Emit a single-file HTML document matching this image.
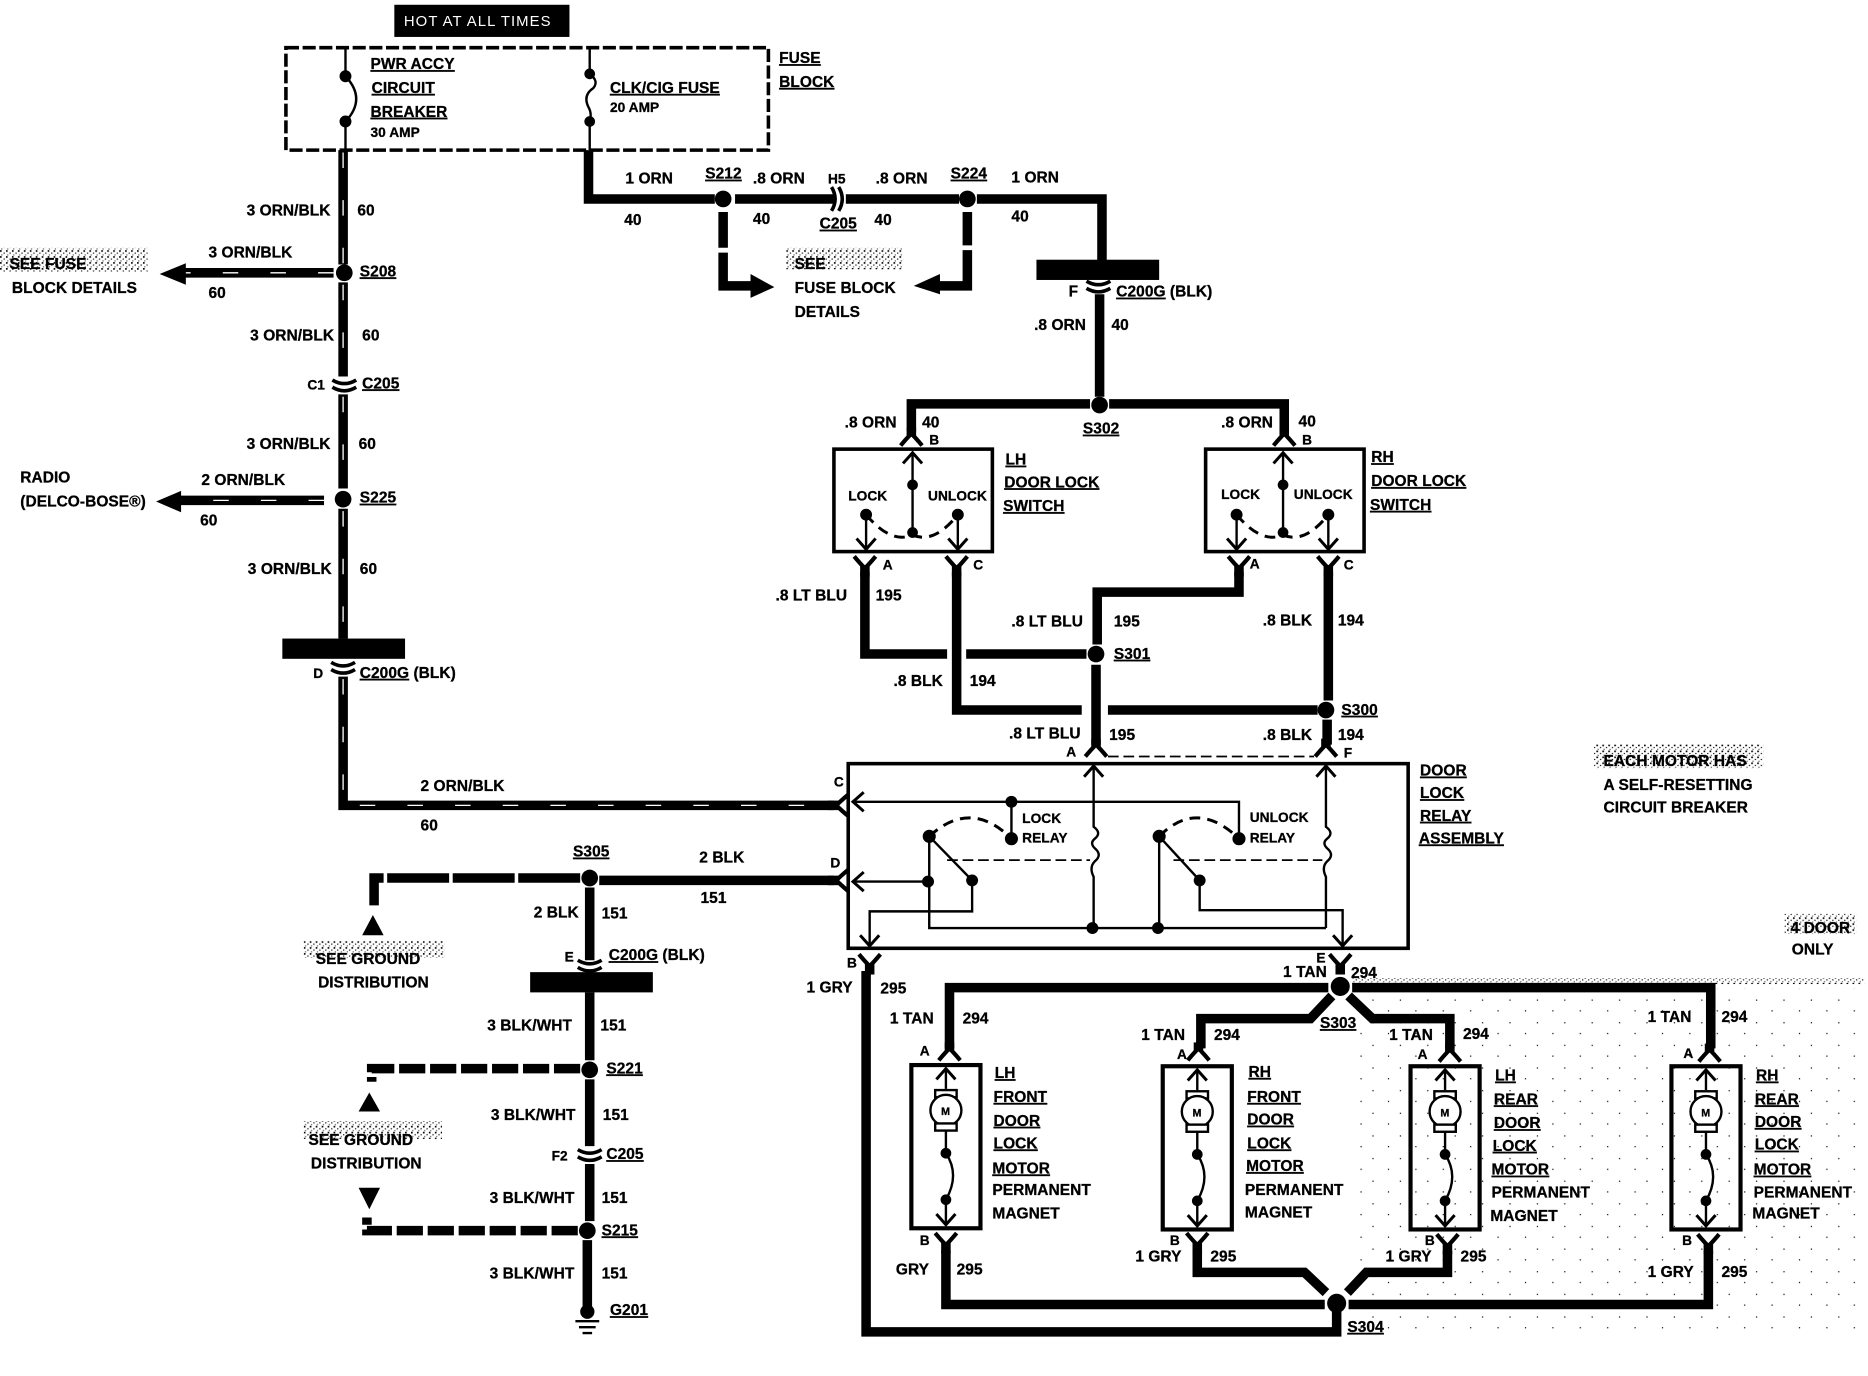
<!DOCTYPE html>
<html><head><meta charset="utf-8"><title>Door lock wiring diagram</title>
<style>
html,body{margin:0;padding:0;background:#fff;width:1868px;height:1376px;overflow:hidden}
svg{display:block}
text{font-family:"Liberation Sans",sans-serif;font-weight:700;font-size:13px;fill:#000;stroke:#000;stroke-width:.25px;letter-spacing:.05px}
.s{font-size:11.5px}
.u{text-decoration:underline;text-underline-offset:3px;text-decoration-thickness:1.5px}
.w{fill:none;stroke:#000;stroke-width:8;stroke-linejoin:miter}
.h{fill:none;stroke:#fff;stroke-width:1.1;stroke-dasharray:13 27}
.t{fill:none;stroke:#000;stroke-width:2}
.b{fill:none;stroke:#000;stroke-width:3}
</style></head><body>
<svg xmlns="http://www.w3.org/2000/svg" width="1868" height="1376" viewBox="0 0 1568 1155" preserveAspectRatio="none">
<defs>
<pattern id="n" width="5" height="5" patternUnits="userSpaceOnUse"><rect x="0" y="0" width="1.4" height="1.4" fill="#000"/><rect x="3" y="2" width="1" height="1" fill="#000"/><rect x="1" y="3.5" width="1" height="1" fill="#555"/></pattern>
<pattern id="m" width="23" height="19" patternUnits="userSpaceOnUse"><rect x="2" y="3" width="1" height="1" fill="#000"/><rect x="15" y="12" width="1" height="1" fill="#000"/></pattern>
<g id="yd"><path d="M-9,5 Q-4,-1 0,-5 Q4,-1 9,5" fill="none" stroke="#000" stroke-width="3.5"/><rect x="-4" y="-10" width="8" height="7"/></g>
<g id="yu"><path d="M-9,-5 Q-4,1 0,5 Q4,1 9,-5" fill="none" stroke="#000" stroke-width="3.5"/><rect x="-4" y="3" width="8" height="9"/></g>
<g id="au"><path d="M-8,9 L0,0 L8,9" fill="none" stroke="#000" stroke-width="2.5"/></g>
<g id="ad"><path d="M-8,-9 L0,0 L8,-9" fill="none" stroke="#000" stroke-width="2.5"/></g>
<g id="cc"><path d="M-10,-5 Q0,1 10,-5 M-10,1 Q0,7 10,1" fill="none" stroke="#000" stroke-width="3"/></g>
<g id="motor">
<rect x="-29" y="0" width="58" height="137" fill="none" stroke="#000" stroke-width="3.5"/>
<use href="#au" y="3"/><path class="t" d="M0,3 V20"/>
<rect x="-9" y="21" width="18" height="6" fill="#fff" stroke="#000" stroke-width="2"/>
<circle cx="0" cy="38" r="13" fill="#fff" stroke="#000" stroke-width="2"/>
<text x="-4" y="42" style="font-size:9px">M</text>
<rect x="-9" y="49" width="18" height="6" fill="#fff" stroke="#000" stroke-width="2"/>
<path class="t" d="M0,55 V74 M0,74 Q12,92 0,113 M0,113 V134"/>
<circle cx="0" cy="74" r="4.5"/><circle cx="0" cy="113" r="4.5"/>
<use href="#ad" y="134"/>
</g>
<g id="sw">
<use href="#au" y="3"/><path class="t" d="M0,3 V70"/>
<circle cx="0" cy="30" r="4.5"/><circle cx="0" cy="70" r="4.5"/>
<path d="M-39,55 Q-18,80 0,72 Q18,80 38,55" fill="none" stroke="#000" stroke-width="2.5" stroke-dasharray="9 6"/>
<circle cx="-39" cy="55" r="5"/><circle cx="38" cy="55" r="5"/>
<path class="t" d="M-39,55 V84 M38,55 V84"/>
<use href="#ad" x="-39" y="84"/><use href="#ad" x="38" y="84"/>
</g>
</defs>

<!-- noise patches -->
<rect x="0" y="208" width="124" height="20" fill="url(#n)"/>
<rect x="660" y="208" width="98" height="18" fill="url(#n)"/>
<rect x="255" y="790" width="118" height="14" fill="url(#n)"/>
<rect x="255" y="941" width="116" height="15" fill="url(#n)"/>
<rect x="1338" y="625" width="142" height="20" fill="url(#n)"/>
<rect x="1498" y="767" width="60" height="17" fill="url(#n)"/>
<rect x="1135" y="821" width="430" height="5" fill="url(#n)"/>
<rect x="1140" y="830" width="425" height="290" fill="url(#m)"/>

<!-- fuse block -->
<rect x="331" y="4" width="147" height="27"/>
<text x="339" y="22" style="fill:#fff;stroke:none;font-weight:400;font-size:12.5px;letter-spacing:.9px">HOT AT ALL TIMES</text>
<rect x="240" y="40" width="405" height="86" fill="none" stroke="#000" stroke-width="3" stroke-dasharray="11 3"/>
<path class="t" d="M290,40 V64 M290,102 V126 M495,40 V62 M495,102 V126"/>
<path class="t" d="M290,64 Q308,83 290,102 M495,62 Q503,68 498,74 Q489,80 494,90 Q497,95 495,102"/>
<circle cx="290" cy="64" r="5"/><circle cx="290" cy="102" r="5"/><circle cx="495" cy="62" r="4.5"/><circle cx="495" cy="102" r="4.5"/>

<!-- top wires -->
<path class="w" d="M494,126 V167 H600"/>
<circle cx="607" cy="167" r="7"/>
<path class="w" d="M617,167 H700 M710,167 H805"/>
<use href="#cc" transform="translate(703,167) rotate(-90)"/>
<circle cx="812" cy="167" r="7"/>
<path class="w" d="M820,167 H925 V220"/>
<path class="w" d="M607,178 V208 M607,212 V240 H632"/><path d="M630,230 L650,241 L630,250Z"/>
<path class="w" d="M812,178 V206 M812,210 V240 H787"/><path d="M789,230 L767,240 L789,247Z"/>
<rect x="870" y="218" width="103" height="17"/>
<use href="#cc" x="922" y="241"/>
<path class="w" d="M923,247 V333"/>
<circle cx="923" cy="340" r="7"/>
<path class="w" d="M915,339 H765 V362 M931,339 H1078 V362"/>
<use href="#yd" x="765" y="369"/>
<use href="#yd" x="1078" y="369"/>

<!-- switches -->
<rect x="700" y="377" width="133" height="86" class="b"/>
<rect x="1012" y="377" width="133" height="86" class="b"/>
<use href="#sw" x="766" y="377"/>
<use href="#sw" x="1077" y="377"/>

<!-- switch lower wires -->
<use href="#yu" x="726" y="472"/><use href="#yu" x="803" y="472"/><use href="#yu" x="1040" y="472"/><use href="#yu" x="1115" y="472"/>
<path class="w" d="M726,480 V549 H795 M811,549 H912"/>
<circle cx="920" cy="549" r="7"/>
<path class="w" d="M803,480 V596 H908 M930,596 H1106"/>
<circle cx="1113" cy="596" r="7"/>
<path class="w" d="M1040,480 V497 H921 V541 M920,558 V625"/>
<path class="w" d="M1115,480 V588 M1114,604 V625"/>
<use href="#yd" x="920" y="630"/><use href="#yd" x="1113" y="630"/>
<path d="M930,635 H1103" stroke="#000" stroke-width="1.5" stroke-dasharray="9 4" fill="none"/>

<!-- relay -->
<rect x="712" y="641" width="470" height="155" class="b"/>
<use href="#au" x="918" y="643"/><use href="#au" x="1113" y="643"/>
<path class="t" d="M918,643 V694 Q925,699 919,704 Q914,708 920,713 Q925,718 919,723 Q914,728 918,736 V779"/>
<path class="t" d="M1113,643 V694 Q1120,699 1114,704 Q1109,708 1115,713 Q1120,718 1114,723 Q1109,728 1113,736 V779"/>
<path class="t" d="M716,673 H1040 V703 M849,673 V703"/>
<use href="#au" transform="translate(716,673) rotate(-90)"/>
<use href="#au" transform="translate(716,740) rotate(-90)"/>
<path class="t" d="M716,740 H780 V779 H1113 M780,702 V740"/>
<path class="t" d="M780,702 L816,739 V765 H730 V794"/>
<use href="#ad" x="730" y="794"/>
<path class="t" d="M973,702 V779 M973,702 L1007,739 V764 H1127 V794"/>
<use href="#ad" x="1127" y="794"/>
<path d="M780,702 Q815,670 849,704 M973,702 Q1005,670 1040,704" fill="none" stroke="#000" stroke-width="2.5" stroke-dasharray="9 6"/>
<path d="M795,722 H915 M985,722 H1110" stroke="#000" stroke-width="1.5" stroke-dasharray="9 4" fill="none"/>
<circle cx="780" cy="702" r="5.5"/><circle cx="849" cy="704" r="5.5"/><circle cx="849" cy="673" r="5"/>
<circle cx="973" cy="702" r="5.5"/><circle cx="1040" cy="704" r="5.5"/>
<circle cx="779" cy="740" r="5"/><circle cx="816" cy="739" r="5"/><circle cx="1007" cy="739" r="5"/>
<circle cx="917" cy="779" r="5"/><circle cx="972" cy="779" r="5"/>

<!-- left harness -->
<path class="w" d="M288,126 V222"/><path class="h" d="M288,128 V222"/>
<circle cx="289" cy="229" r="7"/>
<path class="w" d="M280,229 H150"/><path class="h" d="M280,229 H150"/>
<path d="M156,221 L134,230 L156,239Z"/>
<path class="w" d="M288,237 V316"/><path class="h" d="M288,239 V316"/>
<use href="#cc" x="289" y="324"/>
<path class="w" d="M288,331 V410"/><path class="h" d="M288,333 V410"/>
<circle cx="288" cy="419" r="7"/>
<path class="w" d="M272,420 H148"/><path class="h" d="M272,420 H148"/>
<path d="M152,412 L131,421 L152,430Z"/>
<path class="w" d="M288,427 V536"/><path class="h" d="M288,429 V536"/>
<rect x="237" y="536" width="103" height="17"/>
<use href="#cc" x="288" y="561"/>
<path class="w" d="M288,568 V676 H700"/><path class="h" d="M288,570 V676 H700"/>
<use href="#yu" transform="translate(707,676) rotate(90)"/>

<path class="w" d="M487,737 H314 V760" stroke-dasharray="52 3"/>
<path d="M313,768 L304,785 L322,785Z"/>
<circle cx="495" cy="737" r="7"/>
<path class="w" d="M503,739 H700"/>
<use href="#yu" transform="translate(707,739) rotate(90)"/>
<path class="w" d="M495,745 V806"/>
<use href="#cc" x="495" y="811"/>
<rect x="445" y="816" width="103" height="17"/>
<path class="w" d="M495,833 V890"/>
<circle cx="495" cy="898" r="7"/>
<path class="w" d="M487,897 H312 V908" stroke-dasharray="22 4"/>
<path d="M310,917 L301,933 L319,933Z"/>
<path class="w" d="M495,906 V962"/>
<use href="#cc" x="495" y="970"/>
<path class="w" d="M495,977 V1025"/>
<circle cx="493" cy="1033" r="7"/>
<path class="w" d="M485,1033 H308 V1022" stroke-dasharray="22 4"/>
<path d="M301,997 L319,997 L310,1015Z"/>
<path class="w" d="M493,1041 V1097"/>
<circle cx="493" cy="1101" r="6"/>
<path d="M483,1109 H503 M486,1114 H500 M489,1119 H497" stroke="#000" stroke-width="2"/>

<!-- lower wires -->
<use href="#yu" x="730" y="806"/>
<path class="w" d="M727,815 V1118 H1122 V1100"/>
<use href="#yu" x="1125" y="806"/>
<circle cx="1125" cy="828" r="8"/>
<path class="w" d="M1115,829 H797 V880"/>
<path class="w" d="M1135,829 H1436 V880"/>
<path class="w" d="M1118,836 L1100,855 H1008 V880"/>
<path class="w" d="M1132,836 L1152,855 H1217 V880"/>
<use href="#yd" x="797" y="885"/><use href="#yd" x="1006" y="885"/><use href="#yd" x="1217" y="886"/><use href="#yd" x="1435" y="886"/>

<use href="#motor" x="794" y="894"/>
<use href="#motor" x="1005" y="895"/>
<use href="#motor" x="1213" y="895"/>
<use href="#motor" x="1432" y="895"/>

<use href="#yu" x="794" y="1040"/><use href="#yu" x="1005" y="1040"/><use href="#yu" x="1215" y="1041"/><use href="#yu" x="1434" y="1041"/>
<path class="w" d="M794,1050 V1095 H1112"/>
<path class="w" d="M1005,1050 V1068 H1095 L1113,1085"/>
<path class="w" d="M1215,1050 V1068 H1147 L1131,1085"/>
<path class="w" d="M1434,1050 V1095 H1132"/>
<circle cx="1122" cy="1094" r="8"/>

<!-- labels -->
<text x="654" y="53" class="u">FUSE</text><text x="654" y="73" class="u">BLOCK</text>
<text x="311" y="58" class="u">PWR ACCY</text><text x="312" y="78" class="u">CIRCUIT</text><text x="311" y="98" class="u">BREAKER</text><text x="311" y="115" class="s">30 AMP</text>
<text x="512" y="78" class="u">CLK/CIG FUSE</text><text x="512" y="94" class="s">20 AMP</text>
<text x="525" y="154">1 ORN</text><text x="592" y="150" class="u">S212</text><text x="632" y="154">.8 ORN</text><text x="695" y="154" class="s">H5</text><text x="735" y="154">.8 ORN</text><text x="798" y="150" class="u">S224</text><text x="849" y="153">1 ORN</text>
<text x="524" y="189">40</text><text x="632" y="188">40</text><text x="734" y="189">40</text><text x="849" y="186">40</text><text x="688" y="192" class="u">C205</text>
<text x="667" y="226">SEE</text><text x="667" y="246">FUSE BLOCK</text><text x="667" y="266">DETAILS</text>
<text x="897" y="249">F</text><text x="937" y="249"><tspan class="u">C200G</tspan> (BLK)</text><text x="868" y="277">.8 ORN</text><text x="933" y="277">40</text>
<text x="709" y="359">.8 ORN</text><text x="774" y="359">40</text><text x="780" y="373" class="s">B</text><text x="909" y="364" class="u">S302</text><text x="1025" y="359">.8 ORN</text><text x="1090" y="358">40</text><text x="1093" y="373" class="s">B</text>
<text x="844" y="390" class="u">LH</text><text x="843" y="409" class="u">DOOR LOCK</text><text x="842" y="429" class="u">SWITCH</text>
<text x="1151" y="388" class="u">RH</text><text x="1151" y="408" class="u">DOOR LOCK</text><text x="1150" y="428" class="u">SWITCH</text>
<text x="712" y="420" class="s">LOCK</text><text x="779" y="420" class="s">UNLOCK</text><text x="1025" y="419" class="s">LOCK</text><text x="1086" y="419" class="s">UNLOCK</text>
<text x="741" y="478" class="s">A</text><text x="817" y="478" class="s">C</text><text x="1049" y="477" class="s">A</text><text x="1128" y="478" class="s">C</text>
<text x="651" y="504">.8 LT BLU</text><text x="735" y="504">195</text><text x="849" y="526">.8 LT BLU</text><text x="935" y="526">195</text><text x="1060" y="525">.8 BLK</text><text x="1123" y="525">194</text>
<text x="935" y="553" class="u">S301</text><text x="750" y="576">.8 BLK</text><text x="814" y="576">194</text><text x="1126" y="600" class="u">S300</text>
<text x="847" y="620">.8 LT BLU</text><text x="931" y="621">195</text><text x="1060" y="621">.8 BLK</text><text x="1123" y="621">194</text><text x="895" y="635" class="s">A</text><text x="1128" y="636" class="s">F</text>
<text x="1192" y="651" class="u">DOOR</text><text x="1192" y="670" class="u">LOCK</text><text x="1192" y="689" class="u">RELAY</text><text x="1191" y="708" class="u">ASSEMBLY</text>
<text x="1346" y="643">EACH MOTOR HAS</text><text x="1346" y="663">A SELF-RESETTING</text><text x="1346" y="682">CIRCUIT BREAKER</text>
<text x="700" y="660" class="s">C</text><text x="697" y="728" class="s">D</text><text x="858" y="691" class="s">LOCK</text><text x="858" y="707" class="s">RELAY</text><text x="1049" y="690" class="s">UNLOCK</text><text x="1049" y="707" class="s">RELAY</text>
<text x="1503" y="783">4 DOOR</text><text x="1504" y="801">ONLY</text>
<text x="207" y="181">3 ORN/BLK</text><text x="300" y="181">60</text><text x="175" y="216">3 ORN/BLK</text><text x="302" y="232" class="u">S208</text><text x="175" y="250">60</text>
<text x="8" y="226">SEE FUSE</text><text x="10" y="246">BLOCK DETAILS</text>
<text x="210" y="286">3 ORN/BLK</text><text x="304" y="286">60</text><text x="258" y="327" class="s">C1</text><text x="304" y="326" class="u">C205</text>
<text x="207" y="377">3 ORN/BLK</text><text x="301" y="377">60</text><text x="17" y="405">RADIO</text><text x="17" y="425">(DELCO-BOSE®)</text><text x="169" y="407">2 ORN/BLK</text><text x="302" y="422" class="u">S225</text><text x="168" y="441">60</text>
<text x="208" y="482">3 ORN/BLK</text><text x="302" y="482">60</text><text x="263" y="569" class="s">D</text><text x="302" y="569"><tspan class="u">C200G</tspan> (BLK)</text>
<text x="353" y="664">2 ORN/BLK</text><text x="353" y="697">60</text>
<text x="481" y="719" class="u">S305</text><text x="587" y="724">2 BLK</text><text x="588" y="758">151</text><text x="448" y="770">2 BLK</text><text x="505" y="771">151</text><text x="474" y="807" class="s">E</text><text x="511" y="806"><tspan class="u">C200G</tspan> (BLK)</text>
<text x="265" y="809">SEE GROUND</text><text x="267" y="829">DISTRIBUTION</text>
<text x="409" y="865">3 BLK/WHT</text><text x="504" y="865">151</text><text x="509" y="901" class="u">S221</text><text x="412" y="940">3 BLK/WHT</text><text x="506" y="940">151</text><text x="463" y="974" class="s">F2</text><text x="509" y="973" class="u">C205</text>
<text x="411" y="1010">3 BLK/WHT</text><text x="505" y="1010">151</text><text x="505" y="1037" class="u">S215</text><text x="411" y="1073">3 BLK/WHT</text><text x="505" y="1073">151</text><text x="512" y="1104" class="u">G201</text>
<text x="259" y="961">SEE GROUND</text><text x="261" y="981">DISTRIBUTION</text>
<text x="711" y="812" class="s">B</text><text x="677" y="833">1 GRY</text><text x="739" y="834">295</text><text x="1105" y="808" class="s">E</text><text x="1077" y="820">1 TAN</text><text x="1134" y="821">294</text>
<text x="747" y="859">1 TAN</text><text x="808" y="859">294</text><text x="772" y="886" class="s">A</text><text x="958" y="873">1 TAN</text><text x="1019" y="873">294</text><text x="988" y="889" class="s">A</text><text x="1108" y="863" class="u">S303</text><text x="1166" y="873">1 TAN</text><text x="1228" y="872">294</text><text x="1190" y="889" class="s">A</text><text x="1383" y="858">1 TAN</text><text x="1445" y="858">294</text><text x="1413" y="888" class="s">A</text>
<text x="835" y="905" class="u">LH</text><text x="834" y="925" class="u">FRONT</text><text x="834" y="945" class="u">DOOR</text><text x="834" y="964" class="u">LOCK</text><text x="833" y="985" class="u">MOTOR</text><text x="833" y="1003">PERMANENT</text><text x="833" y="1023">MAGNET</text>
<text x="1048" y="904" class="u">RH</text><text x="1047" y="925" class="u">FRONT</text><text x="1047" y="944" class="u">DOOR</text><text x="1047" y="964" class="u">LOCK</text><text x="1046" y="983" class="u">MOTOR</text><text x="1045" y="1003">PERMANENT</text><text x="1045" y="1022">MAGNET</text>
<text x="1255" y="907" class="u">LH</text><text x="1254" y="927" class="u">REAR</text><text x="1254" y="947" class="u">DOOR</text><text x="1253" y="966" class="u">LOCK</text><text x="1252" y="986" class="u">MOTOR</text><text x="1252" y="1005">PERMANENT</text><text x="1251" y="1025">MAGNET</text>
<text x="1474" y="907" class="u">RH</text><text x="1473" y="927" class="u">REAR</text><text x="1473" y="946" class="u">DOOR</text><text x="1473" y="965" class="u">LOCK</text><text x="1472" y="986" class="u">MOTOR</text><text x="1472" y="1005">PERMANENT</text><text x="1471" y="1023">MAGNET</text>
<text x="772" y="1045" class="s">B</text><text x="752" y="1070">GRY</text><text x="803" y="1070">295</text><text x="982" y="1045" class="s">B</text><text x="953" y="1059">1 GRY</text><text x="1016" y="1059">295</text><text x="1196" y="1045" class="s">B</text><text x="1163" y="1059">1 GRY</text><text x="1226" y="1059">295</text><text x="1412" y="1045" class="s">B</text><text x="1383" y="1072">1 GRY</text><text x="1445" y="1072">295</text><text x="1131" y="1118" class="u">S304</text>
</svg>
</body></html>
